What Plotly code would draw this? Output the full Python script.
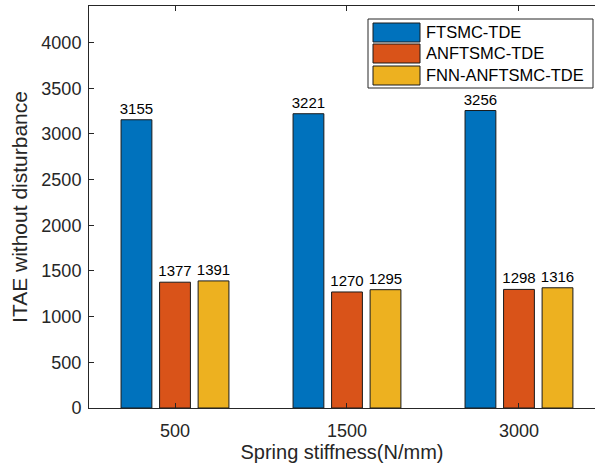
import plotly.graph_objects as go

categories = ["500", "1500", "3000"]
series_names = ["FTSMC-TDE", "ANFTSMC-TDE", "FNN-ANFTSMC-TDE"]
ftsmc = [3155, 3221, 3256]
anftsmc = [1377, 1270, 1298]
fnn_anftsmc = [1391, 1295, 1316]
colors = ["#0072BD", "#D95319", "#EDB120"]
y_ticks = [0, 500, 1000, 1500, 2000, 2500, 3000, 3500, 4000]

FONT = "Liberation Sans, Arial, Helvetica, sans-serif"
AXIS_COLOR = "#262626"
EDGE = "#1a1a1a"

W, H = 595, 473
ML, MR, MT, MB = 89, 0, 6, 65
PW, PH = W - ML - MR, H - MT - MB


def px_x(px):
    return (px - ML) / PW


def px_y(py):
    return (H - MB - py) / PH


fig = go.Figure()
for name, vals, col in zip(series_names, [ftsmc, anftsmc, fnn_anftsmc], colors):
    fig.add_trace(go.Bar(
        x=categories, y=vals, name=name,
        marker=dict(color=col, line=dict(color=EDGE, width=1)),
        text=[str(v) for v in vals], textposition="outside",
        constraintext="none",
        textfont=dict(size=15, color="#000000", family=FONT),
        cliponaxis=False, showlegend=False,
    ))

# Legend drawn as a box with wide swatches, like the MATLAB legend
shapes = [dict(type="rect", xref="paper", yref="paper",
               x0=px_x(368), x1=px_x(593), y0=px_y(88), y1=px_y(19),
               line=dict(color=AXIS_COLOR, width=1), fillcolor="white", layer="above")]
annotations = []
row_centers = [32.5, 53.5, 75.5]
for name, col, cy in zip(series_names, colors, row_centers):
    shapes.append(dict(type="rect", xref="paper", yref="paper",
                       x0=px_x(373), x1=px_x(420), y0=px_y(cy + 9.5), y1=px_y(cy - 9.5),
                       line=dict(color=EDGE, width=1), fillcolor=col, layer="above"))
    annotations.append(dict(xref="paper", yref="paper", x=px_x(424), y=px_y(cy),
                            xanchor="left", yanchor="middle", showarrow=False,
                            text=name, font=dict(size=16.5, color="#000000", family=FONT)))

fig.update_layout(
    width=W, height=H,
    margin=dict(l=ML, r=MR, t=MT, b=MB),
    paper_bgcolor="white", plot_bgcolor="white",
    barmode="group", bargap=0.328, bargroupgap=0.2,
    font=dict(family=FONT, color=AXIS_COLOR),
    showlegend=False,
    shapes=shapes, annotations=annotations,
)
fig.update_xaxes(
    type="category", range=[-0.5, 2.442], automargin=False,
    showline=True, linecolor=AXIS_COLOR, linewidth=1, mirror="ticks",
    ticks="inside", ticklen=5, tickcolor=AXIS_COLOR, ticklabelstandoff=6,
    tickfont=dict(size=18, color=AXIS_COLOR),
    title=dict(text="Spring stiffness(N/mm)", font=dict(size=20, color=AXIS_COLOR), standoff=4),
    showgrid=False, zeroline=False,
)
fig.update_yaxes(
    range=[0, 4400], tickvals=y_ticks, ticktext=[str(v) for v in y_ticks],
    automargin=False,
    showline=True, linecolor=AXIS_COLOR, linewidth=1,
    ticks="inside", ticklen=5, tickcolor=AXIS_COLOR, ticklabelstandoff=3,
    tickfont=dict(size=18, color=AXIS_COLOR),
    title=dict(text="ITAE without disturbance", font=dict(size=21, color=AXIS_COLOR), standoff=8),
    showgrid=False, zeroline=False,
)

fig.write_html("out.html", config={"displayModeBar": False},
               post_script="document.body.style.margin='0';document.body.style.padding='0';")
